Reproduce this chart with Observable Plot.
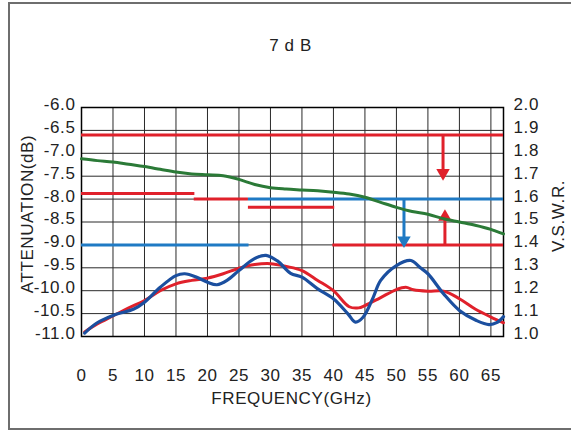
<!DOCTYPE html>
<html>
<head>
<meta charset="utf-8">
<script src="https://cdn.jsdelivr.net/npm/d3@7"></script>
<script src="https://cdn.jsdelivr.net/npm/@observablehq/plot@0.6"></script>
<style>
  html, body { margin: 0; padding: 0; background: #fff; overflow: hidden; }
  #wrap { position: relative; width: 571px; height: 432px; overflow: hidden; }
  #border { position: absolute; left: 8px; top: 2px; width: 600px; height: 428px; box-sizing: border-box; border: 2px solid #6e6e6e; }
  #chart { position: absolute; left: 0; top: 0; }
  #chart text { letter-spacing: 0.6px; }
</style>
</head>
<body>
<div id="wrap"><div id="border"></div><div id="chart"></div></div>
<script>
// ---- data ----
const freqTicks = [0, 5, 10, 15, 20, 25, 30, 35, 40, 45, 50, 55, 60, 65];
const attTicks = [-11, -10.5, -10, -9.5, -9, -8.5, -8, -7.5, -7, -6.5, -6];
const vswrTicks = [1.0, 1.1, 1.2, 1.3, 1.4, 1.5, 1.6, 1.7, 1.8, 1.9, 2.0];

// attenuation (green), dB
const attFreq = [0, 2.5, 5, 7.5, 10, 12.5, 15, 17.5, 20, 22.5, 25, 27.5, 30, 32.5, 35, 37.5, 40, 42.5, 45, 47.5, 50, 52.5, 55, 57.5, 60, 62.5, 65, 66, 67];
const attVal  = [-7.12, -7.16, -7.19, -7.24, -7.29, -7.35, -7.41, -7.45, -7.47, -7.49, -7.57, -7.68, -7.75, -7.78, -7.80, -7.82, -7.85, -7.89, -7.96, -8.07, -8.18, -8.27, -8.33, -8.43, -8.50, -8.57, -8.66, -8.71, -8.76];

// VSWR red curve
const vswrRedFreq = [0.5, 2.5, 5, 7.5, 10, 12.5, 15, 17.5, 20, 22.5, 25, 27.5, 30, 32.5, 35, 37.5, 40, 42.5, 44, 45, 47.5, 50, 51.5, 52.7, 55, 57.5, 60, 62.5, 65, 67];
const vswrRedVal  = [1.02, 1.055, 1.09, 1.125, 1.157, 1.20, 1.23, 1.245, 1.255, 1.274, 1.298, 1.314, 1.318, 1.306, 1.288, 1.245, 1.20, 1.13, 1.125, 1.135, 1.17, 1.205, 1.215, 1.204, 1.198, 1.198, 1.165, 1.12, 1.085, 1.06];

// VSWR blue curve
const vswrBlueFreq = [0.5, 2.5, 5, 8.3, 10, 12.5, 15, 16.4, 18.3, 20, 21.5, 23.1, 25, 27.4, 29.3, 31.1, 33.2, 35, 37.5, 40, 42.3, 43.5, 44.7, 46.3, 47.5, 50, 52.3, 53.8, 55, 57.5, 60, 62.7, 64.7, 66, 67];
const vswrBlueVal  = [1.015, 1.06, 1.092, 1.12, 1.15, 1.215, 1.266, 1.274, 1.259, 1.237, 1.226, 1.245, 1.288, 1.339, 1.354, 1.33, 1.276, 1.259, 1.208, 1.165, 1.099, 1.063, 1.084, 1.17, 1.245, 1.31, 1.332, 1.30, 1.274, 1.186, 1.114, 1.07, 1.052, 1.062, 1.087];

// spec limit lines (dB)
const redSpecY  = [-6.6, -7.88, -8.0, -8.18, -9.0];
const redSpecX1 = [0, 0, 17.9, 26.5, 39.9];
const redSpecX2 = [67, 18, 26.5, 40.2, 67];
const blueSpecY  = [-8.0, -9.0];
const blueSpecX1 = [26.5, 0];
const blueSpecX2 = [67, 26.6];

// arrows: x, from, to
const arrowX    = [57.4, 57.7, 51.2];
const arrowFrom = [-6.6, -9.0, -8.0];
const arrowTo   = [-7.43, -8.39, -8.9];
const arrowKind = ["red", "red", "blue"];

// ---- build ----
const vswrToDb = v => -11 + (v - 1) * 5;
const RED = "#e0212b", BLUE = "#1b4f9f", BLUESPEC = "#1f7ac4", GREEN = "#2b7a37";

const att = attFreq.map((f, i) => ({f, v: attVal[i]}));
const red = vswrRedFreq.map((f, i) => ({f, v: vswrToDb(vswrRedVal[i])}));
const blue = vswrBlueFreq.map((f, i) => ({f, v: vswrToDb(vswrBlueVal[i])}));
const redSpec = redSpecY.map((y, i) => ({y, x1: redSpecX1[i], x2: redSpecX2[i]}));
const blueSpec = blueSpecY.map((y, i) => ({y, x1: blueSpecX1[i], x2: blueSpecX2[i]}));
const arrows = arrowX.map((x, i) => ({x, y1: arrowFrom[i], y2: arrowTo[i], c: arrowKind[i] === "red" ? RED : BLUESPEC, down: arrowTo[i] < arrowFrom[i]}));

const chart = Plot.plot({
  width: 571,
  height: 432,
  marginLeft: 81,
  marginRight: 68,
  marginTop: 107,
  marginBottom: 96,
  x: {domain: [0, 67]},
  y: {domain: [-11, -6]},
  style: {fontFamily: "'Liberation Sans', Arial, Helvetica, sans-serif", fontSize: "17px", color: "#222", background: "transparent", overflow: "visible"},
  marks: [
    Plot.gridX(freqTicks, {stroke: "#2a2a2a", strokeOpacity: 1, strokeWidth: 1}),
    Plot.gridY(attTicks, {stroke: "#2a2a2a", strokeOpacity: 1, strokeWidth: 1}),
    Plot.frame({stroke: "#000", strokeWidth: 1.5}),
    Plot.axisX({ticks: freqTicks, tickSize: 0, tickPadding: 32, label: null, fontSize: 17}),
    Plot.axisY({ticks: attTicks, tickSize: 0, tickPadding: 6, tickFormat: d => d.toFixed(1), label: null, dy: -3, fontSize: 17}),
    Plot.axisY({anchor: "right", ticks: vswrTicks.map(vswrToDb), tickSize: 0, tickPadding: 10, tickFormat: d => ((d + 11) / 5 + 1).toFixed(1), label: null, dy: -3, fontSize: 17}),
    Plot.ruleY(redSpec, {y: "y", x1: "x1", x2: "x2", stroke: RED, strokeWidth: 3}),
    Plot.ruleY(blueSpec, {y: "y", x1: "x1", x2: "x2", stroke: BLUESPEC, strokeWidth: 3}),
    Plot.ruleX(arrows, {x: "x", y1: "y1", y2: "y2", stroke: "c", strokeWidth: 3}),
    Plot.dot(arrows, {x: "x", y: "y2", fill: "c", stroke: null, symbol: "triangle", r: 5, rotate: d => d.down ? 180 : 0}),
    Plot.line(att, {x: "f", y: "v", stroke: GREEN, strokeWidth: 3, curve: "catmull-rom"}),
    Plot.line(red, {x: "f", y: "v", stroke: RED, strokeWidth: 3, curve: "catmull-rom"}),
    Plot.line(blue, {x: "f", y: "v", stroke: BLUE, strokeWidth: 3.2, curve: "catmull-rom"}),
    Plot.text(["7 d B"], {frameAnchor: "top", lineAnchor: "middle", textAnchor: "middle", dx: -2, dy: -62, fontSize: 17, fill: "#222"}),
    Plot.text(["FREQUENCY(GHz)"], {frameAnchor: "bottom", lineAnchor: "middle", textAnchor: "middle", dx: -1, dy: 62, fontSize: 17, fill: "#222"}),
    Plot.text(["ATTENUATION(dB)"], {frameAnchor: "left", lineAnchor: "middle", textAnchor: "middle", dx: -54, dy: -8, rotate: -90, fontSize: 17, fill: "#222"}),
    Plot.text(["V.S.W.R."], {frameAnchor: "right", lineAnchor: "middle", textAnchor: "middle", dx: 55, dy: -6, rotate: -90, fontSize: 17, fill: "#222"})
  ]
});
document.getElementById("chart").appendChild(chart);
</script>
</body>
</html>
